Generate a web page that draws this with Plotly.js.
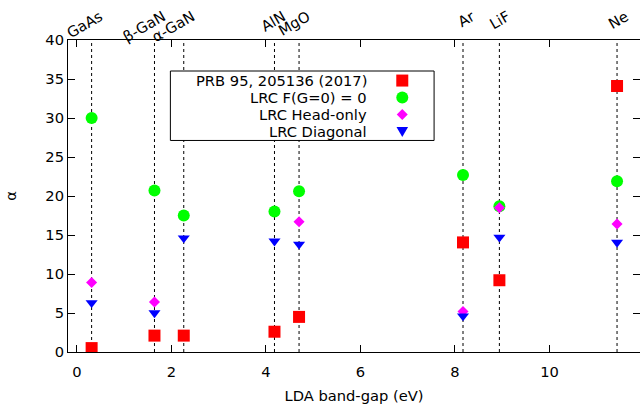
<!DOCTYPE html>
<html>
<head>
<meta charset="utf-8">
<script src="https://cdn.plot.ly/plotly-3.0.1.min.js"></script>
<style>
html,body{margin:0;padding:0;overflow:hidden;background:#fff;}
#wrap{position:relative;width:640px;height:404px;}
.toplab{position:absolute;white-space:nowrap;font-family:"DejaVu Sans";font-size:14.7px;line-height:1;color:#000;
  transform-origin:100% 100%;transform:rotate(-30deg);}
</style>
</head>
<body>
<div id="wrap"><div id="chart" style="width:640px;height:404px;"></div></div>
<script>
// ---- data ----
const materials = ["GaAs", "β-GaN", "α-GaN", "AlN", "MgO", "Ar", "LiF", "Ne"];
const bandGaps  = [0.31, 1.64, 2.26, 4.18, 4.70, 8.17, 8.94, 11.43];
const prb2017   = [0.5, 2.1, 2.1, 2.6, 4.5, 14.05, 9.2, 34.1];
const lrcF0     = [30.0, 20.7, 17.5, 18.0, 20.6, 22.7, 18.7, 21.9];
const lrcHead   = [8.9, 6.4, null, null, 16.7, 5.2, 18.5, 16.4];
const lrcDiag   = [6.3, 5.0, 14.6, 14.2, 13.8, 4.6, 14.7, 14.05];
const seriesNames = ["PRB 95, 205136 (2017)", "LRC F(G=0) = 0", "LRC Head-only", "LRC Diagonal"];
const xTickVals = [0, 2, 4, 6, 8, 10];
const yTickVals = [0, 5, 10, 15, 20, 25, 30, 35, 40];

const FONT = "DejaVu Sans";
const FS = 14.7;
const styles = [
  {symbol: "square", size: 12, color: "#ff0000"},
  {symbol: "circle", size: 12, color: "#00ff00"},
  {symbol: "diamond", size: 8.5, color: "#ff00ff"},
  {symbol: "triangle-down", size: 10.5, color: "#0000ff"}
];
const allSeries = [prb2017, lrcF0, lrcHead, lrcDiag];

const traces = allSeries.map((vals, i) => ({
  type: "scatter", mode: "markers", x: bandGaps, y: vals, name: seriesNames[i],
  marker: {symbol: styles[i].symbol, size: styles[i].size, color: styles[i].color, line: {width: 0}},
  showlegend: false, hoverinfo: "skip"
}));

const shapes = bandGaps.map(g => ({
  type: "line", xref: "x", yref: "paper", x0: g, x1: g, y0: 0, y1: 1,
  line: {color: "#000", width: 1, dash: "dot"}, layer: "below"
}));

// custom legend (symbols drawn right of text, as in the reference)
const legBox = {x0: 0.179, x1: 0.640, y0: 0.678, y1: 0.9006};
shapes.push({type: "rect", xref: "paper", yref: "paper", x0: legBox.x0, x1: legBox.x1, y0: legBox.y0, y1: legBox.y1,
  line: {color: "#000", width: 1}, fillcolor: "#fff", layer: "above"});
const legRowsY = [0.870, 0.8157, 0.7612, 0.7067];
const legTextX = 0.5267, legSymX = 0.5844;
const symPaths = {
  square: "M-6,-6H6V6H-6Z",
  diamond: "M-5.5,0L0,-5.5L5.5,0L0,5.5Z",
  "triangle-down": "M-5.8,4.5H5.8L0,-5.5Z"
};
const annotations = [];
legRowsY.forEach((yy, i) => {
  annotations.push({xref: "paper", yref: "paper", x: legTextX, y: yy, xanchor: "right", yanchor: "middle",
    text: seriesNames[i], showarrow: false, font: {family: FONT, size: FS, color: "#000"}});
  const st = styles[i].symbol;
  if (st === "circle") {
    shapes.push({type: "circle", xref: "paper", yref: "paper", xsizemode: "pixel", ysizemode: "pixel",
      xanchor: legSymX, yanchor: yy, x0: -6, x1: 6, y0: -6, y1: 6,
      fillcolor: styles[i].color, line: {width: 0}, layer: "above"});
  } else {
    shapes.push({type: "path", xref: "paper", yref: "paper", xsizemode: "pixel", ysizemode: "pixel",
      xanchor: legSymX, yanchor: yy, path: symPaths[st],
      fillcolor: styles[i].color, line: {width: 0}, layer: "above"});
  }
});

const axisCommon = {
  ticks: "inside", ticklen: 7, tickwidth: 1, tickcolor: "#000",
  showline: true, linecolor: "#000", linewidth: 1, mirror: "ticks",
  showgrid: false, zeroline: false,
  tickfont: {family: FONT, size: FS, color: "#000"}
};

const layout = {
  width: 640, height: 404,
  margin: {l: 68, r: 0, t: 40, b: 52},
  paper_bgcolor: "#fff", plot_bgcolor: "#fff",
  font: {family: FONT, size: FS, color: "#000"},
  showlegend: false,
  xaxis: Object.assign({}, axisCommon, {
    range: [-0.19, 11.916], tickmode: "array", tickvals: xTickVals, ticklabelstandoff: 6,
    title: {text: "LDA band-gap (eV)", font: {family: FONT, size: FS, color: "#000"}, standoff: 14}
  }),
  yaxis: Object.assign({}, axisCommon, {
    range: [0, 40], tickmode: "array", tickvals: yTickVals,
    title: {text: "α", font: {family: FONT, size: FS, color: "#000"}, standoff: 25}
  }),
  shapes: shapes,
  annotations: annotations
};

const gd = document.getElementById("chart");
Plotly.newPlot(gd, traces, layout, {displayModeBar: false}).then(() => {
  // rewrite 3-argument rotations into an explicit translate/rotate form
  gd.querySelectorAll("[transform]").forEach(el => {
    const t = el.getAttribute("transform");
    const m = t && t.match(/rotate\(\s*(-?[\d.e+-]+)\s*,\s*(-?[\d.e+-]+)\s*,\s*(-?[\d.e+-]+)\s*\)/);
    if (m) {
      const rep = "translate(" + m[2] + "," + m[3] + ") rotate(" + m[1] + ") translate(" + (-m[2]) + "," + (-m[3]) + ")";
      el.setAttribute("transform", t.replace(m[0], rep));
    }
  });
  // top material labels, placed through the x axis scale
  const xa = gd._fullLayout.xaxis;
  const wrap = document.getElementById("wrap");
  materials.forEach((m, i) => {
    const px = xa._offset + xa.l2p(bandGaps[i]);
    const d = document.createElement("div");
    d.className = "toplab";
    d.textContent = m;
    wrap.appendChild(d);
    const w = d.offsetWidth, h = d.offsetHeight;
    d.style.left = (px + 13.5 - w) + "px";
    d.style.top = (22 - h) + "px";
  });
});
</script>
</body>
</html>
